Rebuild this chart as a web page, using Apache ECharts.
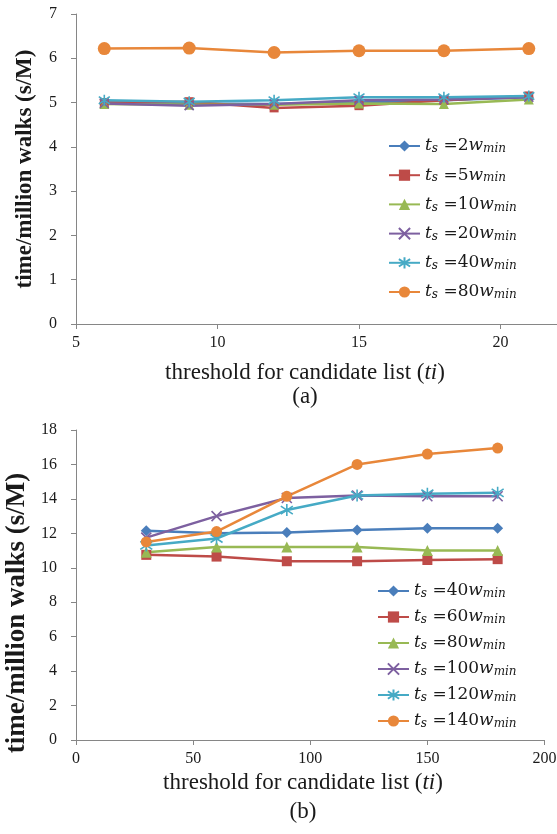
<!DOCTYPE html>
<html><head><meta charset="utf-8">
<script src="https://cdn.jsdelivr.net/npm/echarts@6/dist/echarts.min.js"></script>
<style>html,body{margin:0;padding:0;background:#fff}#c{width:557px;height:834px}</style>
</head><body><div id="c"></div>
<script>
// Chart (a)
const xA = [6, 9, 12, 15, 18, 21];
const namesA = ['2', '5', '10', '20', '40', '80'];
const a2 = [5.00, 4.98, 4.97, 5.00, 5.05, 5.12];
const a5 = [5.00, 5.02, 4.88, 4.93, 5.05, 5.15];
const a10 = [4.97, 4.95, 4.95, 4.98, 4.97, 5.07];
const a20 = [4.98, 4.93, 4.97, 5.05, 5.07, 5.12];
const a40 = [5.05, 5.02, 5.05, 5.12, 5.12, 5.15];
const a80 = [6.22, 6.23, 6.13, 6.17, 6.17, 6.22];
// Chart (b)
const xB = [30, 60, 90, 120, 150, 180];
const namesB = ['40', '60', '80', '100', '120', '140'];
const b40 = [12.15, 12.0, 12.05, 12.2, 12.3, 12.3];
const b60 = [10.75, 10.65, 10.38, 10.38, 10.45, 10.5];
const b80 = [10.9, 11.2, 11.2, 11.2, 11.0, 11.0];
const b100 = [11.75, 13.0, 14.05, 14.2, 14.15, 14.15];
const b120 = [11.3, 11.7, 13.35, 14.2, 14.3, 14.35];
const b140 = [11.5, 12.1, 14.15, 16.0, 16.6, 16.95];
const ticksA = { xmin: 5, xmax: 25, xint: 5, ymin: 0, ymax: 7, yint: 1 };
const ticksB = { xmin: 0, xmax: 200, xint: 50, ymin: 0, ymax: 18, yint: 2 };

const colors = ['#4A7EBB', '#BE4B48', '#98B954', '#7D60A0', '#46AAC5', '#E8873A'];
const XPATH = 'path://M0,0L10,10M10,0L0,10';
const STAR = 'path://M0,1L10,9M10,1L0,9M5,-1L5,11';
const symbols = ['diamond', 'rect', 'triangle', XPATH, STAR, 'circle'];
const sizesA = [10, 9, 10, 9, 11, 13];
const sizesB = [11, 10, 11, 10, 12, 11];
const FONT = '"Liberation Serif", "Times New Roman", serif';
const LFONT = '"DejaVu Serif", serif';
const TXT = '#1a1a1a';
const AX = '#868686';

function mkSeries(xs, vals, names, sizes, gi) {
  return vals.map((v, i) => ({
    type: 'line', name: 'ts=' + names[i] + 'wmin' + gi,
    xAxisIndex: gi, yAxisIndex: gi,
    data: xs.map((x, k) => [x, v[k]]),
    symbol: symbols[i], symbolSize: sizes[i],
    lineStyle: { color: colors[i], width: 2.5 },
    itemStyle: { color: colors[i], borderColor: colors[i], borderWidth: (i === 3 || i === 4) ? 1.6 : 0 },
    emphasis: { disabled: true }, animation: false
  }));
}
const seriesA = mkSeries(xA, [a2, a5, a10, a20, a40, a80], namesA, sizesA, 0);
const seriesB = mkSeries(xB, [b40, b60, b80, b100, b120, b140], namesB, sizesB, 1);

const rich = {
  i: { fontFamily: LFONT, fontStyle: 'italic', fontSize: 17, color: TXT, lineHeight: 20 },
  s: { fontFamily: LFONT, fontStyle: 'italic', fontSize: 12, color: TXT, lineHeight: 20, padding: [6, 0, 0, 0] },
  n: { fontFamily: LFONT, fontSize: 17, color: TXT, lineHeight: 20 }
};
function legendFmt(name) {
  const m = name.match(/^ts=(\d+)wmin\d$/);
  return '{i|t}{s|s}{n| =' + m[1] + '}{i|w}{s|min}';
}

function xAxisCfg(gi, t) {
  return {
    type: 'value', gridIndex: gi, min: t.xmin, max: t.xmax, interval: t.xint,
    axisLine: { show: true, onZero: false, lineStyle: { color: AX, width: 1 } },
    axisTick: { show: true, length: 5, lineStyle: { color: AX } },
    splitLine: { show: false },
    axisLabel: { fontFamily: FONT, fontSize: 16, color: TXT, margin: 11, showMaxLabel: true }
  };
}
function yAxisCfg(gi, t, gap, fs, pad) {
  return {
    type: 'value', gridIndex: gi, min: t.ymin, max: t.ymax, interval: t.yint,
    axisLine: { show: true, lineStyle: { color: AX, width: 1 } },
    axisTick: { show: true, length: 5, lineStyle: { color: AX } },
    splitLine: { show: false },
    axisLabel: { fontFamily: FONT, fontSize: 16, color: TXT, margin: 19 },
    name: 'time/million walks (s/M)', nameLocation: 'middle', nameGap: gap,
    nameTextStyle: { fontFamily: FONT, fontSize: fs, fontWeight: 'bold', color: TXT, padding: pad }
  };
}
const titleRich = {
  n: { fontFamily: FONT, fontSize: 23, fill: TXT },
  i: { fontFamily: FONT, fontSize: 23, fontStyle: 'italic', fill: TXT }
};

const chart = echarts.init(document.getElementById('c'), null, { renderer: 'canvas' });
chart.setOption({
  backgroundColor: '#fff',
  animation: false,
  grid: [
    { left: 76, top: 14, width: 566, height: 310, outerBoundsMode: 'none', containLabel: false },
    { left: 76, top: 430, width: 468.5, height: 310, outerBoundsMode: 'none', containLabel: false }
  ],
  xAxis: [xAxisCfg(0, ticksA), xAxisCfg(1, ticksB)],
  yAxis: [yAxisCfg(0, ticksA, 39, 23, [0, 0, 0, 0]), yAxisCfg(1, ticksB, 45, 27, [0, 56, 0, 0])],
  legend: [
    { data: seriesA.map(s => s.name), orient: 'vertical', left: 388, top: 137, padding: 0, itemWidth: 31, itemHeight: 14,
      itemGap: 11.2, formatter: legendFmt, textStyle: { rich: rich }, selectedMode: false },
    { data: seriesB.map(s => s.name), orient: 'vertical', left: 377, top: 582, padding: 0, itemWidth: 31, itemHeight: 14,
      itemGap: 8, formatter: legendFmt, textStyle: { rich: rich }, selectedMode: false }
  ],
  graphic: [
    { type: 'text', x: 305, y: 373, style: { text: '{n|threshold for candidate list (}{i|ti}{n|)}', rich: titleRich, align: 'center', verticalAlign: 'middle' } },
    { type: 'text', x: 305, y: 397, style: { text: '(a)', fontFamily: FONT, fontSize: 23, fill: TXT, align: 'center', verticalAlign: 'middle' } },
    { type: 'text', x: 303, y: 783, style: { text: '{n|threshold for candidate list (}{i|ti}{n|)}', rich: titleRich, align: 'center', verticalAlign: 'middle' } },
    { type: 'text', x: 303, y: 812, style: { text: '(b)', fontFamily: FONT, fontSize: 23, fill: TXT, align: 'center', verticalAlign: 'middle' } }
  ],
  series: seriesA.concat(seriesB)
});
</script>
</body></html>
